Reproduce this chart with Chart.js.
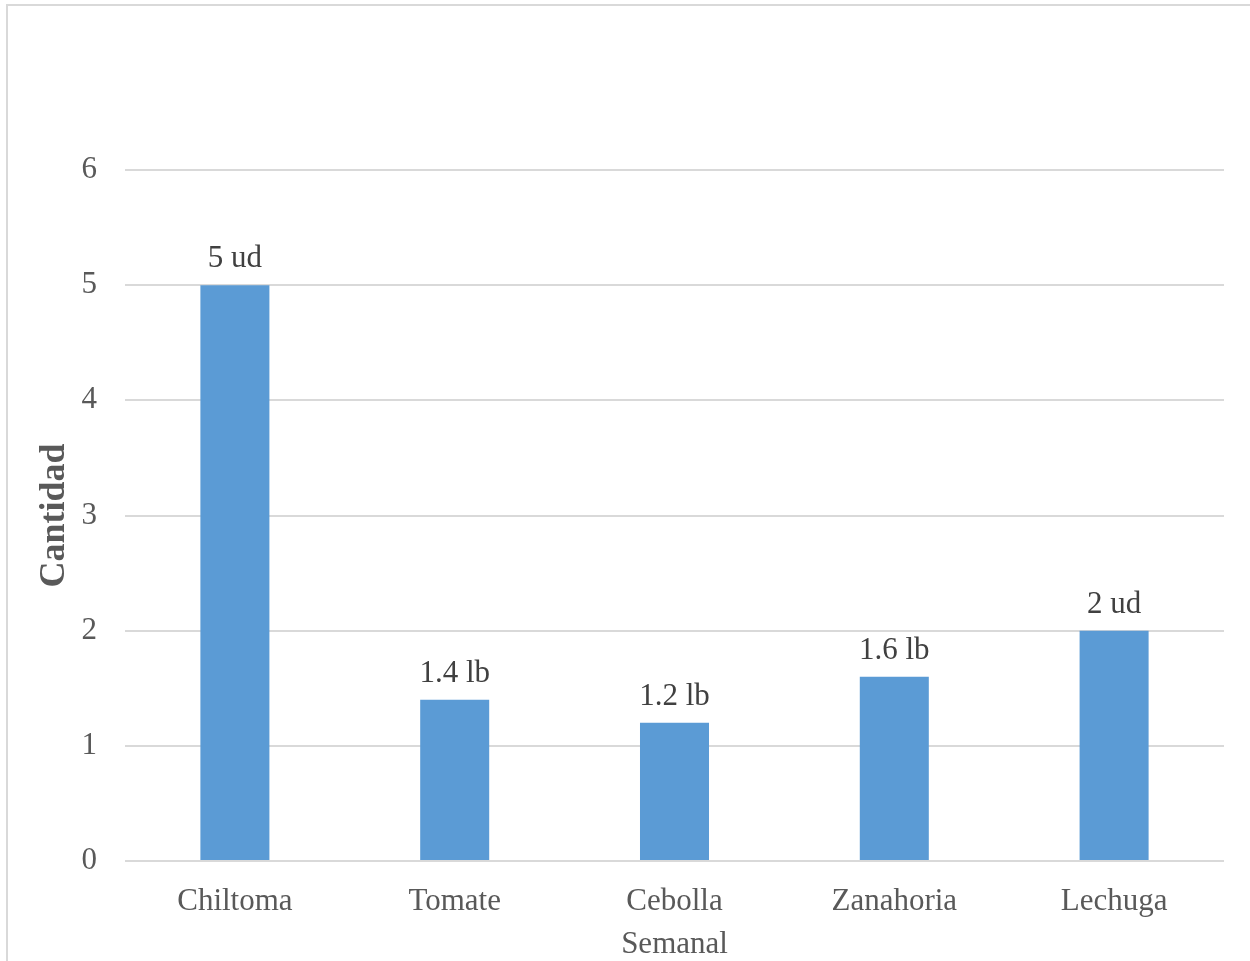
<!DOCTYPE html>
<html>
<head>
<meta charset="utf-8">
<script src="https://cdn.jsdelivr.net/npm/chart.js@4"></script>
<style>
  html, body { margin: 0; padding: 0; background: #fff; }
  body { width: 1250px; height: 961px; position: relative; overflow: hidden; }
  #frame {
    position: absolute; left: 6px; top: 4px; width: 1300px; height: 1000px;
    border: 2px solid #d9d9d9; box-sizing: border-box;
  }
  #chart { position: absolute; left: 0; top: 0; }
</style>
</head>
<body>
<div id="frame"></div>
<canvas id="chart" width="1250" height="961"></canvas>
<script>
// Data
const categories = ['Chiltoma', 'Tomate', 'Cebolla', 'Zanahoria', 'Lechuga'];
const cantidades = [5, 1.4, 1.2, 1.6, 2];
const etiquetas = ['5 ud', '1.4 lb', '1.2 lb', '1.6 lb', '2 ud'];

const FONT = '"Liberation Serif", "Times New Roman", serif';

// Draw value labels above each bar
const barLabels = {
    id: 'barLabels',
    afterDatasetsDraw(chart) {
        const ctx = chart.ctx;
        const meta = chart.getDatasetMeta(0);
        ctx.save();
        ctx.font = '31px ' + FONT;
        ctx.fillStyle = '#404040';
        ctx.textAlign = 'center';
        ctx.textBaseline = 'alphabetic';
        meta.data.forEach((bar, i) => {
            ctx.fillText(etiquetas[i], bar.x, bar.y - 18);
        });
        ctx.restore();
    }
};

const ctx = document.getElementById('chart').getContext('2d');
new Chart(ctx, {
    type: 'bar',
    data: {
        labels: categories,
        datasets: [{
            data: cantidades,
            backgroundColor: '#5b9bd5',
            borderWidth: 0,
            categoryPercentage: 1,
            barPercentage: 0.314
        }]
    },
    options: {
        responsive: false,
        animation: false,
        devicePixelRatio: 1,
        layout: { padding: { top: 170, right: 26, left: 0, bottom: 0 } },
        plugins: {
            legend: { display: false },
            tooltip: { enabled: false }
        },
        scales: {
            x: {
                grid: { display: false },
                border: { display: false },
                ticks: {
                    color: '#595959',
                    font: { family: FONT, size: 31 },
                    padding: 14,
                    maxRotation: 0
                },
                title: {
                    display: true,
                    text: 'Semanal',
                    color: '#595959',
                    font: { family: FONT, size: 31 },
                    padding: { top: 0, bottom: -2 }
                },
                afterFit(scale) { scale.height = 100; }
            },
            y: {
                min: 0,
                max: 6,
                grid: { color: '#d9d9d9', lineWidth: 2, drawTicks: false },
                border: { display: false },
                ticks: {
                    stepSize: 1,
                    color: '#595959',
                    font: { family: FONT, size: 31 },
                    padding: 28
                },
                title: {
                    display: true,
                    text: 'Cantidad',
                    color: '#595959',
                    font: { family: FONT, size: 36, weight: 'bold' },
                    padding: { top: 33, bottom: 0 }
                },
                afterFit(scale) { scale.width = 125; }
            }
        }
    },
    plugins: [barLabels]
});
</script>
</body>
</html>
